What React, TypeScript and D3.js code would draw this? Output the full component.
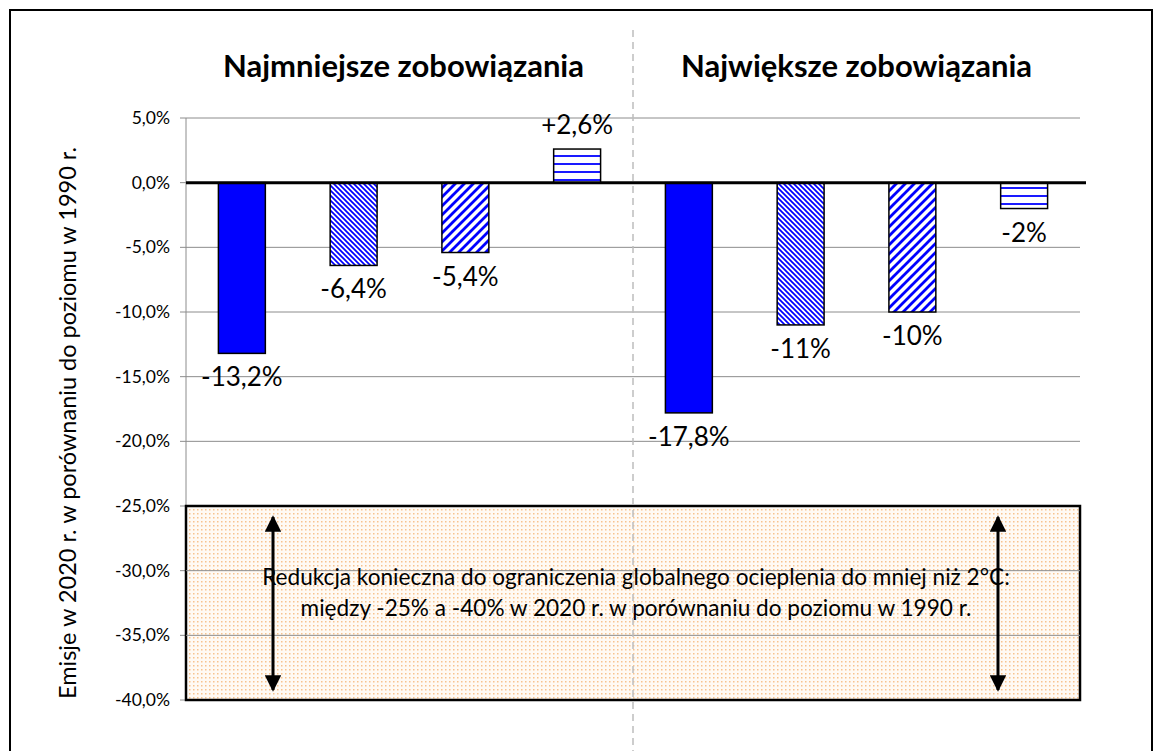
import * as d3 from "d3";

const groups = ["Najmniejsze zobowiązania", "Największe zobowiązania"];
const barKeys = ["a1", "a2", "a3", "a4", "b1", "b2", "b3", "b4"];
const values = [-13.2, -6.4, -5.4, 2.6, -17.8, -11, -10, -2];
const labels = ["-13,2%", "-6,4%", "-5,4%", "+2,6%", "-17,8%", "-11%", "-10%", "-2%"];
const fills = ["solid", "dn", "up", "hz", "solid", "dn", "up", "hz"];
const yTicks = [5, 0, -5, -10, -15, -20, -25, -30, -35, -40];
const targetRange = [-25, -40];
const yTitle = "Emisje w 2020 r. w porównaniu do poziomu w 1990 r.";
const noteLines = [
  "Redukcja konieczna do ograniczenia globalnego ocieplenia do mniej niż 2°C:",
  "między -25% a -40% w 2020 r. w porównaniu do poziomu w 1990 r.",
];

const W = 1162;
const H = 751;
const margin = { top: 118, right: 82, bottom: 51, left: 186 };
const BLUE = "#0000ff";
const FONT = "Lato, 'Open Sans', sans-serif";

const fmtTick = (d: number) => d.toFixed(1).replace(".", ",") + "%";

export default function App() {
  const x = d3.scaleBand().domain(barKeys).range([margin.left, W - margin.right]).paddingInner(0.58).paddingOuter(0.29);
  const y = d3.scaleLinear().domain([5, -40]).range([margin.top, H - margin.bottom]);
  const x0 = margin.left;
  const x1 = W - margin.right;
  const split = (x0 + x1) / 2;
  const fillFor = (f: string) => (f === "solid" ? BLUE : `url(#pat-${f})`);
  const arrowXs = [273, 998];

  return (
    <div style={{ position: "fixed", left: 0, top: 0 }}>
      <svg width={W} height={H} style={{ display: "block", fontFamily: FONT }}>
        <defs>
          <pattern id="pat-dn" patternUnits="userSpaceOnUse" width={5} height={5}>
            <rect width={5} height={5} fill="#fff" />
            <path d="M-1,-1 L6,6 M-1,4 L1,6 M4,-1 L6,1" stroke={BLUE} strokeWidth={1.7} />
          </pattern>
          <pattern id="pat-up" patternUnits="userSpaceOnUse" width={9} height={9}>
            <rect width={9} height={9} fill="#fff" />
            <path d="M-1,10 L10,-1 M-2,2 L2,-2 M7,11 L11,7" stroke={BLUE} strokeWidth={2.8} />
          </pattern>
          <pattern id="pat-hz" patternUnits="userSpaceOnUse" width={8} height={8}>
            <rect width={8} height={8} fill="#fff" />
            <line x1={0} x2={8} y1={4} y2={4} stroke={BLUE} strokeWidth={1.8} />
          </pattern>
          <pattern id="pat-dots" patternUnits="userSpaceOnUse" width={4} height={4}>
            <rect width={4} height={4} fill="#fffaf4" />
            <rect x={1} y={1} width={1.5} height={1.5} fill="#f7c38f" />
          </pattern>
          <marker id="ah" viewBox="0 0 10 10" refX={9} refY={5} markerWidth={5.5} markerHeight={5.5} orient="auto-start-reverse">
            <path d="M0,0 L10,5 L0,10 Z" fill="#000" />
          </marker>
        </defs>

        {/* outer frame */}
        <rect x={10} y={10} width={1142} height={760} fill="#fff" stroke="#000" strokeWidth={2} />

        {/* gridlines + ticks */}
        {yTicks.map((t) => (
          <g key={t}>
            <line x1={x0 - 6} x2={x1} y1={y(t)} y2={y(t)} stroke="#8c8c8c" strokeWidth={1} />
            <text x={x0 - 16} y={y(t)} dy="0.35em" textAnchor="end" fontSize={17.5} fill="#000">
              {fmtTick(t)}
            </text>
          </g>
        ))}
        <line x1={x0} x2={x0} y1={y(5)} y2={y(-40)} stroke="#8c8c8c" />

        {/* target band */}
        <rect
          x={x0}
          y={y(targetRange[0])}
          width={x1 - x0}
          height={y(targetRange[1]) - y(targetRange[0])}
          fill="url(#pat-dots)"
          stroke="#000"
          strokeWidth={2.5}
        />
        {yTicks
          .filter((t) => t < targetRange[0] && t > targetRange[1])
          .map((t) => (
            <line key={`g${t}`} x1={x0} x2={x1} y1={y(t)} y2={y(t)} stroke="#8c8c8c" />
          ))}
        {arrowXs.map((ax) => (
          <line
            key={ax}
            x1={ax}
            x2={ax}
            y1={y(targetRange[0]) + 11}
            y2={y(targetRange[1]) - 10}
            stroke="#000"
            strokeWidth={3}
            markerStart="url(#ah)"
            markerEnd="url(#ah)"
          />
        ))}
        {noteLines.map((ln, i) => (
          <text key={i} x={split + 3} y={y(-31.1) + i * 31} textAnchor="middle" fontSize={22.6} fill="#000">
            {ln}
          </text>
        ))}

        {/* divider */}
        <line x1={split} x2={split} y1={30} y2={H} stroke="#bdbdbd" strokeWidth={1.5} strokeDasharray="7,5" />

        {/* bars */}
        {values.map((v, i) => {
          const k = barKeys[i];
          const top = y(Math.max(0, v));
          const bot = y(Math.min(0, v));
          const cx = (x(k) ?? 0) + x.bandwidth() / 2;
          return (
            <g key={k}>
              <rect x={x(k)} y={top} width={x.bandwidth()} height={bot - top} fill={fillFor(fills[i])} stroke="#000" strokeWidth={1.5} />
              <text
                x={cx}
                y={v >= 0 ? top - 15 : bot + 33}
                textAnchor="middle"
                fontSize={26}
                fill="#000"
              >
                {labels[i]}
              </text>
            </g>
          );
        })}

        {/* zero line */}
        <line x1={x0} x2={x1 + 6} y1={y(0)} y2={y(0)} stroke="#000" strokeWidth={3} />

        {/* titles */}
        {groups.map((g, i) => (
          <text key={g} x={i === 0 ? (x0 + split) / 2 - 6 : (split + x1) / 2} y={77} textAnchor="middle" fontSize={31} fontWeight="bold" fill="#000">
            {g}
          </text>
        ))}

        <text transform={`translate(76,${423}) rotate(-90)`} textAnchor="middle" fontSize={23.5} fill="#000">
          {yTitle}
        </text>
      </svg>
    </div>
  );
}
